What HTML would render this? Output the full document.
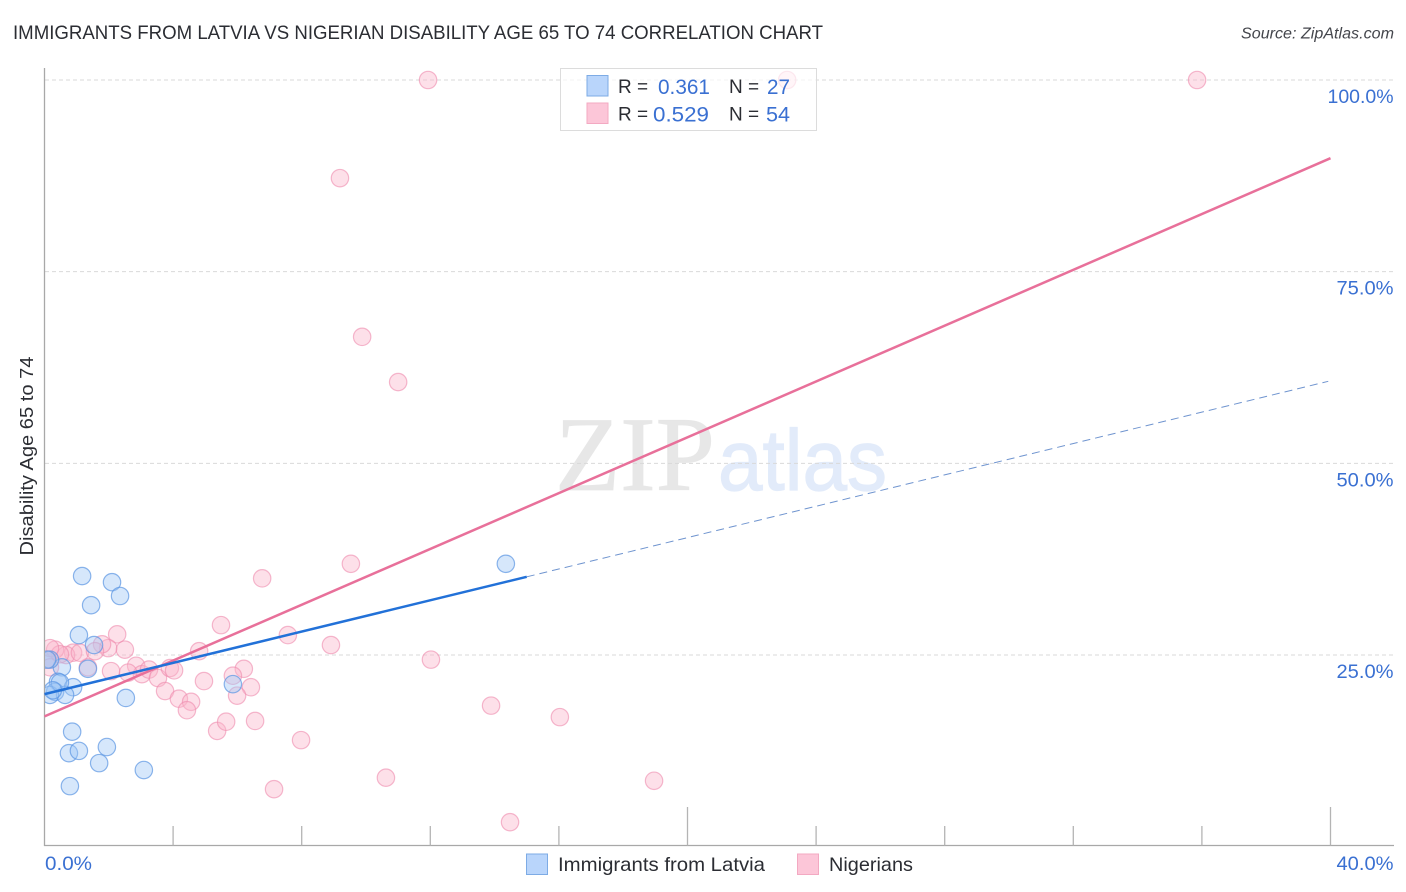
<!DOCTYPE html>
<html lang="en">
<head>
<meta charset="utf-8">
<title>Immigrants from Latvia vs Nigerian Disability Age 65 to 74 Correlation Chart</title>
<style>
html,body{margin:0;padding:0;background:#fff;}
svg{display:block;font-family:"Liberation Sans",sans-serif;filter:blur(0.35px);}
</style>
</head>
<body>
<svg id="chart" xmlns="http://www.w3.org/2000/svg" width="1406" height="892" viewBox="0 0 1406 892">
  <defs>
    <clipPath id="plot-clip"><rect x="45" y="60" width="1349" height="786"/></clipPath>
  </defs>
  <rect x="0" y="0" width="1406" height="892" fill="#fff"/>
  <text x="13" y="39" font-size="19.5" fill="#2b2d33" textLength="810" lengthAdjust="spacingAndGlyphs">IMMIGRANTS FROM LATVIA VS NIGERIAN DISABILITY AGE 65 TO 74 CORRELATION CHART</text>
  <text x="1394" y="38.5" font-size="15.5" font-style="italic" fill="#44464c" text-anchor="end" textLength="153" lengthAdjust="spacingAndGlyphs">Source: ZipAtlas.com</text>

  <g>
    <text x="555" y="490" font-family="'Liberation Serif',serif" font-size="106" fill="#e7e7e7" stroke="#e7e7e7" stroke-width="0.8" textLength="160" lengthAdjust="spacingAndGlyphs">ZIP</text>
    <text x="718" y="490" font-size="86" fill="#e2ebfa" stroke="#e2ebfa" stroke-width="1.2" textLength="169" lengthAdjust="spacingAndGlyphs">atlas</text>
  </g>

  <g id="grid"></g>
  <g id="axes"></g>
  <g id="points" clip-path="url(#plot-clip)"></g>
  <g id="trends"></g>

  <text transform="translate(33,456) rotate(-90)" font-size="18.5" fill="#2b2d33" text-anchor="middle" textLength="199" lengthAdjust="spacingAndGlyphs">Disability Age 65 to 74</text>

  <g>
    <rect x="560.5" y="68.5" width="256" height="62" fill="#fff" fill-opacity="0.68" stroke="#dcdcdc" stroke-width="1"/>
    <rect x="587" y="75.5" width="21" height="20.5" fill="#b9d5fb" stroke="#7dabe5" stroke-width="1"/>
    <rect x="587" y="103" width="21" height="20.5" fill="#fcc6d8" stroke="#f3a9c2" stroke-width="1"/>
    <text x="618" y="93" font-size="19" fill="#2b2d33">R =</text>
    <text x="658" y="94" font-size="21.5" fill="#3a70d2" textLength="52" lengthAdjust="spacingAndGlyphs">0.361</text>
    <text x="729" y="93" font-size="19" fill="#2b2d33">N =</text>
    <text x="767" y="94" font-size="21.5" fill="#3a70d2" textLength="23" lengthAdjust="spacingAndGlyphs">27</text>
    <text x="618" y="120.5" font-size="19" fill="#2b2d33">R =</text>
    <text x="653" y="121.5" font-size="21.5" fill="#3a70d2" textLength="56" lengthAdjust="spacingAndGlyphs">0.529</text>
    <text x="729" y="120.5" font-size="19" fill="#2b2d33">N =</text>
    <text x="766" y="121.5" font-size="21.5" fill="#3a70d2" textLength="24" lengthAdjust="spacingAndGlyphs">54</text>
  </g>

  <g>
    <rect x="526.5" y="854" width="21" height="20.5" fill="#b9d5fb" stroke="#7dabe5" stroke-width="1"/>
    <text x="558" y="871" font-size="19.5" fill="#2b2d33" textLength="207" lengthAdjust="spacingAndGlyphs">Immigrants from Latvia</text>
    <rect x="797.5" y="854" width="21" height="20.5" fill="#fcc6d8" stroke="#f3a9c2" stroke-width="1"/>
    <text x="829" y="871" font-size="19.5" fill="#2b2d33" textLength="84" lengthAdjust="spacingAndGlyphs">Nigerians</text>
  </g>
</svg>
<script>
const yTickValues = [25, 50, 75, 100];
const yTickLabels = ["25.0%", "50.0%", "75.0%", "100.0%"];
const xTickValues = [4, 8, 12, 16, 20, 24, 28, 32, 36, 40];
const xMajorTicks = [20, 40];
const xEndValues = [0, 40];
const xEndLabels = ["0.0%", "40.0%"];

const latviaX = [1.17, 2.10, 2.35, 1.45, 1.07, 1.54, 1.35, 0.54, 0.17, 0.42, 0.89, 2.53, 0.33, 0.64, 0.17, 5.86, 0.86, 0.76, 1.07, 1.94, 1.70, 3.09, 0.79, 14.35, 0.08, 0.48, 0.26];
const latviaY = [35.3, 34.5, 32.7, 31.5, 27.6, 26.3, 23.2, 23.4, 24.4, 21.5, 20.8, 19.4, 20.2, 19.8, 19.8, 21.2, 15.0, 12.2, 12.5, 13.0, 10.9, 10.0, 7.9, 36.9, 24.4, 21.4, 20.4];
const nigeriansX = [11.93, 35.85, 23.1, 9.19, 9.88, 11.0, 9.53, 6.77, 5.49, 2.26, 7.57, 8.91, 12.02, 4.81, 6.2, 2.5, 1.98, 1.79, 2.07, 2.85, 3.03, 2.6, 3.25, 3.53, 3.9, 4.03, 3.75, 4.18, 4.56, 4.43, 4.96, 5.86, 6.42, 5.99, 5.37, 5.65, 6.55, 7.98, 13.89, 16.03, 10.62, 7.14, 18.96, 14.48, 1.35, 0.89, 0.67, 1.1, 1.57, 0.33, 0.48, 0.17, 0.1, 0.17];
const nigeriansY = [100, 100, 100, 87.2, 66.5, 60.6, 36.9, 35.0, 28.9, 27.7, 27.6, 26.3, 24.4, 25.5, 23.2, 25.7, 25.9, 26.4, 22.9, 23.6, 22.5, 22.7, 23.1, 22.0, 23.3, 23.0, 20.3, 19.3, 18.9, 17.8, 21.6, 22.3, 20.8, 19.7, 15.1, 16.3, 16.4, 13.9, 18.4, 16.9, 9.0, 7.5, 8.6, 3.2, 23.4, 25.3, 25.0, 25.3, 25.5, 25.7, 25.1, 25.9, 24.4, 23.4];

const latviaTrendX = [0, 15];
const latviaTrendY = [19.9, 35.2];
const latviaDashX = [15, 39.93];
const latviaDashY = [35.2, 60.7];
const nigeriansTrendX = [0, 40];
const nigeriansTrendY = [17.0, 89.8];

const NS = "http://www.w3.org/2000/svg";
const scaleX = v => 44.5 + v * 32.15;
const scaleY = v => 846.7 - v * 7.667;

function make(tag, attrs, parent) {
  const el = document.createElementNS(NS, tag);
  for (const k in attrs) el.setAttribute(k, attrs[k]);
  parent.appendChild(el);
  return el;
}

const grid = document.getElementById("grid");
const axes = document.getElementById("axes");
const points = document.getElementById("points");
const trends = document.getElementById("trends");

yTickValues.forEach((v, i) => {
  const line = make("line", {x1: 45, x2: 1394, y1: scaleY(v), y2: scaleY(v), stroke: "#d9d9d9", "stroke-width": 1, "stroke-dasharray": "4 3"}, grid);
  
  
  const width = yTickLabels[i].length === 6 ? 66 : 57;
  const label = make("text", {x: 1393.5 - width, y: scaleY(v) + 23, "font-size": 19.5, fill: "#3a70d2", textLength: width, lengthAdjust: "spacingAndGlyphs"}, axes);
  label.textContent = yTickLabels[i];
  
  
});

const yAxis = make("line", {x1: 44.5, x2: 44.5, y1: 68, y2: 846, stroke: "#a8a8a8", "stroke-width": 1.3}, axes);


const xAxis = make("line", {x1: 44, x2: 1394, y1: 845.5, y2: 845.5, stroke: "#a8a8a8", "stroke-width": 1.3}, axes);



xTickValues.forEach(v => {
  const top = xMajorTicks.includes(v) ? 807 : 826;
  const tick = make("line", {x1: scaleX(v), x2: scaleX(v), y1: top, y2: 845.5, stroke: "#b4b4b4", "stroke-width": 1.3}, axes);
  
  
});

xEndValues.forEach((v, i) => {
  const x = i === 0 ? 45 : 1336.5;
  const width = i === 0 ? 47 : 57;
  const label = make("text", {x: x, y: 870, "font-size": 19.5, fill: "#3a70d2", textLength: width, lengthAdjust: "spacingAndGlyphs"}, axes);
  label.textContent = xEndLabels[i];
  
  
});

nigeriansX.forEach((v, i) => {
  const dot = make("circle", {cx: scaleX(v), cy: scaleY(nigeriansY[i]), r: 8.7, fill: "#fbb4cb", "fill-opacity": 0.42, stroke: "#ee8aae", "stroke-opacity": 0.6, "stroke-width": 1.2}, points);
  
  
});
latviaX.forEach((v, i) => {
  const dot = make("circle", {cx: scaleX(v), cy: scaleY(latviaY[i]), r: 8.7, fill: "#9ec5f5", "fill-opacity": 0.42, stroke: "#5b96e2", "stroke-opacity": 0.7, "stroke-width": 1.2}, points);
  
  
});

const nigeriansLine = make("line", {x1: scaleX(nigeriansTrendX[0]), y1: scaleY(nigeriansTrendY[0]), x2: scaleX(nigeriansTrendX[1]), y2: scaleY(nigeriansTrendY[1]), stroke: "#e8709a", "stroke-width": 2.5}, trends);


const latviaDash = make("line", {x1: scaleX(latviaDashX[0]), y1: scaleY(latviaDashY[0]), x2: scaleX(latviaDashX[1]), y2: scaleY(latviaDashY[1]), stroke: "#6f94cf", "stroke-width": 1, "stroke-dasharray": "8 5"}, trends);


const latviaLine = make("line", {x1: scaleX(latviaTrendX[0]), y1: scaleY(latviaTrendY[0]), x2: scaleX(latviaTrendX[1]), y2: scaleY(latviaTrendY[1]), stroke: "#2271d8", "stroke-width": 2.5}, trends);


</script>
</body>
</html>
